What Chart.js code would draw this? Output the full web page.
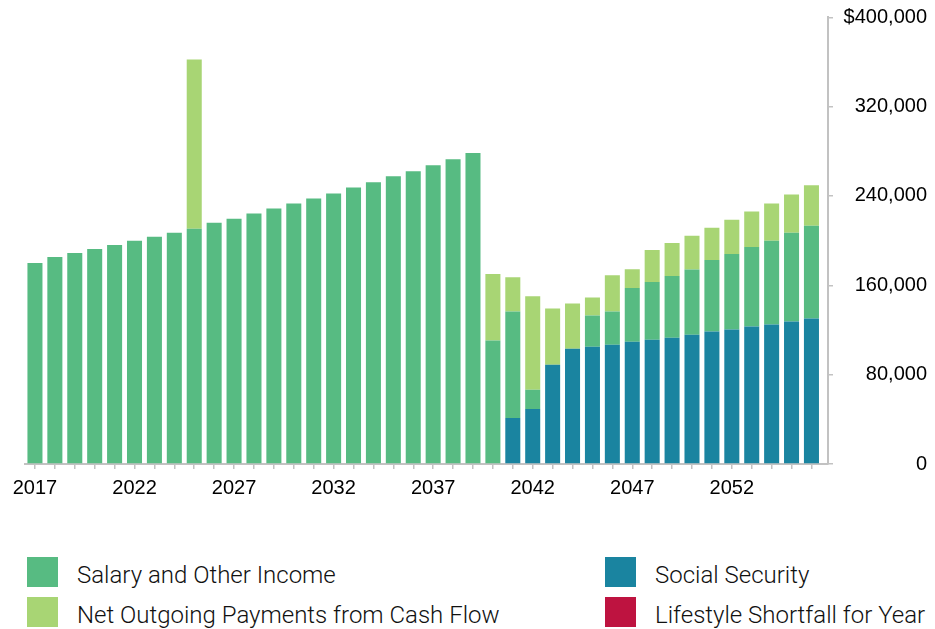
<!DOCTYPE html>
<html>
<head>
<meta charset="utf-8">
<script src="https://cdn.jsdelivr.net/npm/chart.js@4/dist/chart.umd.min.js"></script>
<style>
  body { margin: 0; background: #fff; }
  #wrap { position: relative; width: 935px; height: 629px; }
  #chart { position: absolute; left: 0; top: 0; }
  .legend-item { position: absolute; height: 30px; font-family: Roboto, "Liberation Sans", sans-serif;
    font-weight: 300; font-size: 24px; color: #111; white-space: nowrap; }
  .legend-item .box { position: absolute; left: 0; top: 0; width: 31px; height: 30px; }
  .legend-item .txt { position: absolute; left: 50px; top: 3px; line-height: 30px; }
</style>
</head>
<body>
<div id="wrap">
  <canvas id="chart" width="935" height="507"></canvas>
  <div id="legend"></div>
</div>
<script>
const years = [];
for (let y = 2017; y <= 2056; y++) years.push(y);

const salary = [
  180000, 185400, 189000, 192600, 196200, 199800, 203400, 207000, 210700, 216000,
  219700, 224200, 228700, 233200, 237700, 242300, 247700, 252200, 257600, 262100,
  267500, 273000, 278400, 110600, 95400, 17200, 0, 0, 27900, 29800,
  48000, 51700, 55300, 58300, 64100, 67700, 71300, 74900, 79400, 83100
];
const netOutgoing = [
  0, 0, 0, 0, 0, 0, 0, 0, 151600, 0,
  0, 0, 0, 0, 0, 0, 0, 0, 0, 0,
  0, 0, 0, 59500, 30700, 83700, 50500, 40600, 16300, 32500,
  17000, 28700, 29600, 30200, 28800, 30700, 31600, 33400, 34400, 36100
];
const socialSecurity = [
  0, 0, 0, 0, 0, 0, 0, 0, 0, 0,
  0, 0, 0, 0, 0, 0, 0, 0, 0, 0,
  0, 0, 0, 0, 41200, 49300, 88800, 103200, 105000, 106800,
  109500, 111300, 113100, 115800, 118600, 120400, 123100, 124900, 127600, 130300
];
const shortfall = new Array(40).fill(0);

const yTicks = [0, 80000, 160000, 240000, 320000, 400000];

const axisFont = { family: "'Liberation Sans', Arial, sans-serif", size: 20 };
const axisGray = '#c2c2c2';

const ctx = document.getElementById('chart');

const chart = new Chart(ctx, {
  type: 'bar',
  data: {
    labels: years,
    datasets: [
      { label: 'Social Security', data: socialSecurity, backgroundColor: '#1a84a0' },
      { label: 'Salary and Other Income', data: salary, backgroundColor: '#57bb82' },
      { label: 'Net Outgoing Payments from Cash Flow', data: netOutgoing, backgroundColor: '#a8d574' },
      { label: 'Lifestyle Shortfall for Year', data: shortfall, backgroundColor: '#be1340' }
    ]
  },
  options: {
    responsive: false,
    animation: false,
    layout: { padding: { top: 12.3, left: 25, right: 8, bottom: 0 } },
    datasets: { bar: { categoryPercentage: 1, barPercentage: 0.755, borderWidth: 0 } },
    plugins: { legend: { display: false }, tooltip: { enabled: false } },
    scales: {
      x: {
        type: 'linear',
        stacked: true,
        offset: false,
        min: 2016.5,
        max: 2056.83,
        // one tick per year, label only every fifth
        afterBuildTicks: function(scale) {
          scale.ticks = years.map(v => ({ value: v }));
        },
        grid: { offset: false, drawOnChartArea: false, tickLength: 5, color: axisGray, lineWidth: 1.5 },
        border: { color: axisGray, width: 2 },
        ticks: {
          autoSkip: false,
          maxRotation: 0,
          padding: 7,
          color: '#000',
          font: axisFont,
          callback: function(v) { return (v - 2017) % 5 === 0 ? String(v) : ''; }
        }
      },
      y: {
        stacked: true,
        position: 'right',
        min: 0,
        max: 400000,
        afterBuildTicks: function(scale) {
          scale.ticks = yTicks.map(v => ({ value: v }));
        },
        grid: { drawOnChartArea: false, tickLength: 5, color: axisGray, lineWidth: 1.5 },
        border: { color: axisGray, width: 2 },
        ticks: {
          crossAlign: 'far',
          padding: 5.3,
          color: '#000',
          font: axisFont,
          callback: function(v) {
            const s = v.toLocaleString('en-US');
            return v === 400000 ? '$' + s : s;
          }
        }
      }
    }
  }
});

// legend in two columns: left column income, right column social security / shortfall
const legendSpots = [
  { i: 1, x: 27, y: 557 },
  { i: 2, x: 27, y: 597 },
  { i: 0, x: 605, y: 557 },
  { i: 3, x: 605, y: 597 }
];
const legend = document.getElementById('legend');
legendSpots.forEach(function(spot) {
  const ds = chart.data.datasets[spot.i];
  const item = document.createElement('div');
  item.className = 'legend-item';
  item.style.left = spot.x + 'px';
  item.style.top = spot.y + 'px';
  item.innerHTML = '<span class="box" style="background:' + ds.backgroundColor + '"></span>' +
    '<span class="txt">' + ds.label + '</span>';
  legend.appendChild(item);
});
</script>
</body>
</html>
